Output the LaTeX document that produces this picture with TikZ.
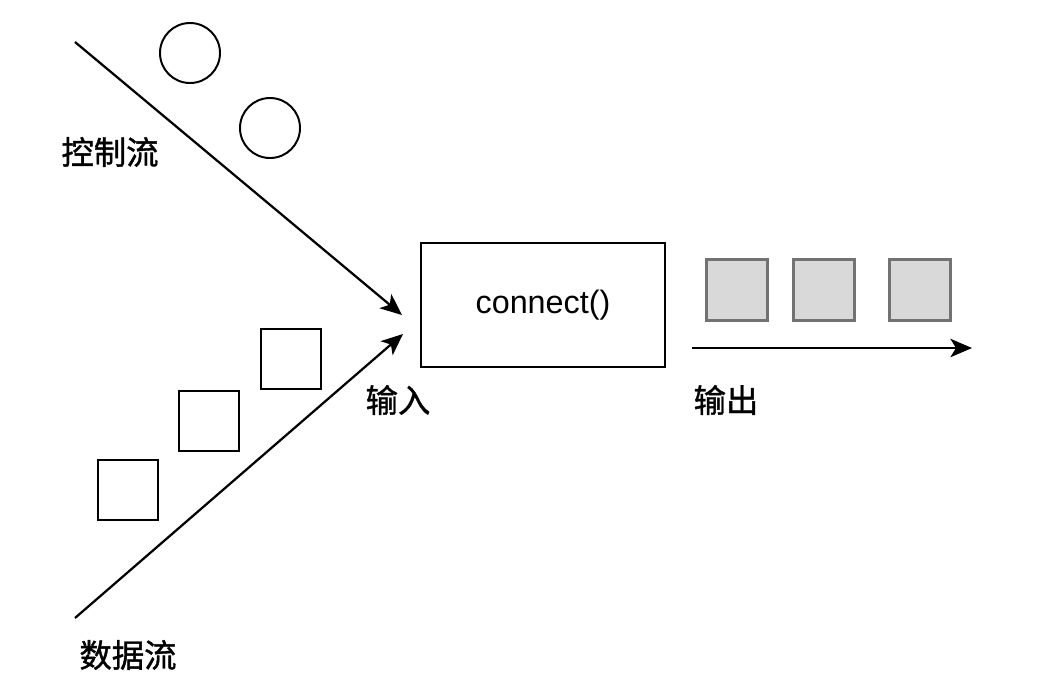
\documentclass[tikz,border=0pt]{standalone}
\usepackage{fontspec}
\setmainfont{Liberation Sans}
\newfontfamily\cjk[FakeBold=1.2]{Noto Sans CJK SC}
\usepackage{xcolor}
\usetikzlibrary{arrows.meta,positioning}

\definecolor{tokengray}{HTML}{D9D9D9}
\definecolor{tokenedge}{HTML}{727272}

\begin{document}
\begin{tikzpicture}[
  x=0.025cm, y=-0.025cm,
  token/.style={draw, circle, line width=1.4pt, minimum size=1.5cm, inner sep=0pt},
  packet/.style={draw, line width=1.5pt, minimum size=1.52cm, inner sep=0pt},
  result/.style={draw=tokenedge, fill=tokengray, line width=1.6pt, minimum size=1.52cm, inner sep=0pt},
  proc/.style={draw, line width=1.9pt, minimum width=6.1cm, minimum height=3.1cm, font=\fontsize{23}{26}\selectfont},
  lbl/.style={font=\cjk\fontsize{23}{26}\selectfont, inner sep=0pt},
  flow/.style={-{Stealth[length=5.4mm, width=4.6mm, inset=1.4mm]}, line width=1.6pt}
]
\useasboundingbox (0,0) rectangle (1044,687);

% control stream
\coordinate (ctrlstart) at (75,42);
\coordinate (ctrlend) at (402,315);
\node[token] (tok1) at (190,53) {};
\node[token] (tok2) at (270,128) {};
\node[lbl] (ctrllbl) at (110,152) {控制流};

% data stream
\coordinate (datastart) at (75,618);
\coordinate (dataend) at (403,334);
\node[packet] (pkt1) at (128,490) {};
\node[packet] (pkt2) at (209,421) {};
\node[packet] (pkt3) at (291,359) {};
\node[lbl] (datalbl) at (128,655) {数据流};

% operator
\node[proc] (connect) at (543,305) {connect()};
\node[lbl] (inlbl) at (398,400) {输入};

% output stream
\node[result] (out1) at (737,290) {};
\node[result] (out2) at (824,290) {};
\node[result] (out3) at (920,290) {};
\coordinate (outstart) at (692,348);
\coordinate (outend) at (972,348);
\node[lbl] (outlbl) at (726,400) {输出};

\draw[flow] (ctrlstart) -- (ctrlend);
\draw[flow] (datastart) -- (dataend);
\draw[flow] (outstart) -- (outend);
\end{tikzpicture}
\end{document}
